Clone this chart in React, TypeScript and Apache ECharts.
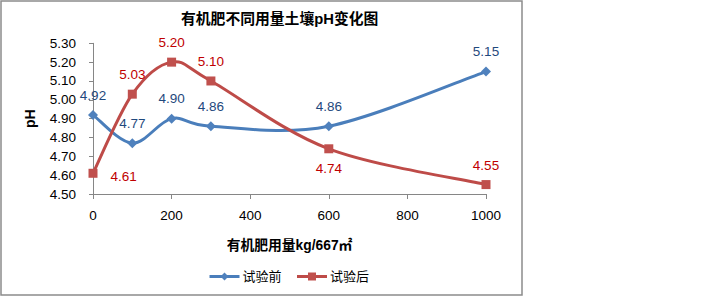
import React, { useEffect, useRef } from "react";
import * as echarts from "echarts";

const titleText = "有机肥不同用量土壤pH变化图";
const xAxisName = "有机肥用量kg/667㎡";
const yAxisName = "pH";
const seriesNames = ["试验前", "试验后"];
const doses = [0, 100, 200, 300, 600, 1000];
const phBefore = [4.92, 4.77, 4.9, 4.86, 4.86, 5.15];
const phAfter = [4.61, 5.03, 5.2, 5.1, 4.74, 4.55];

const FONT = "'Liberation Sans', Arial, 'Noto Sans CJK SC', sans-serif";
const BLUE = "#4A7EBB";
const RED = "#BE4B48";

function smoothSeries(name: string, vals: number[], color: string) {
  const segs = doses.slice(0, -1).map((d, i) => [d, vals[i], doses[i + 1], vals[i + 1]]);
  return {
    name: name + "-curve",
    type: "custom",
    coordinateSystem: "cartesian2d",
    silent: true,
    encode: { x: [0, 2], y: [1, 3] },
    data: segs,
    z: 1,
    renderItem: (params: any, api: any) => {
      const i = params.dataIndex;
      const n = doses.length;
      const pt = (j: number) => {
        const k = Math.max(0, Math.min(n - 1, j));
        return api.coord([doses[k], vals[k]]);
      };
      const p0 = pt(i - 1);
      const p1 = pt(i);
      const p2 = pt(i + 1);
      const p3 = pt(i + 2);
      const t = 1 / 6;
      return {
        type: "bezierCurve",
        shape: {
          x1: p1[0],
          y1: p1[1],
          cpx1: p1[0] + (p2[0] - p0[0]) * t,
          cpy1: p1[1] + (p2[1] - p0[1]) * t,
          cpx2: p2[0] - (p3[0] - p1[0]) * t,
          cpy2: p2[1] - (p3[1] - p1[1]) * t,
          x2: p2[0],
          y2: p2[1],
        },
        style: { stroke: color, lineWidth: 3, fill: "none", lineCap: "round" },
      };
    },
  };
}

export default function App() {
  const ref = useRef<HTMLDivElement>(null);
  useEffect(() => {
    if (!ref.current) return;
    const chart = echarts.init(ref.current, null, { renderer: "svg" });
    const lbl = (color: string) => ({
      show: true,
      position: "top",
      distance: 8,
      color,
      fontSize: 13.5,
      fontFamily: FONT,
      formatter: (p: any) => Number(p.value[1]).toFixed(2),
    });
    const beforeData = doses.map((d, i) => [d, phBefore[i]]);
    const afterData = doses.map((d, i) => {
      const item: any = { value: [d, phAfter[i]] };
      if (i === 0) item.label = { position: "right", distance: 13, offset: [0, 3] };
      if (i === 4) item.label = { position: "bottom", distance: 8 };
      return item;
    });
    chart.setOption({
      animation: false,
      backgroundColor: "#ffffff",
      textStyle: { fontFamily: FONT },
      title: {
        text: titleText,
        left: 176,
        top: 7,
        textStyle: { fontSize: 14.8, fontWeight: "bold", color: "#000", fontFamily: FONT },
      },
      graphic: [
        {
          type: "rect",
          shape: { x: 1, y: 1, width: 521, height: 294 },
          style: { fill: "none", stroke: "#8c8c8c", lineWidth: 1.5 },
          silent: true,
        },
      ],
      legend: {
        left: 208,
        top: 270,
        padding: 0,
        itemWidth: 30,
        itemHeight: 10,
        itemGap: 14,
        textStyle: { fontSize: 13, color: "#000", fontFamily: FONT, padding: [0, 0, 0, -2] },
        data: [
          { name: seriesNames[0], lineStyle: { color: BLUE, width: 3, opacity: 1 } },
          { name: seriesNames[1], lineStyle: { color: RED, width: 3, opacity: 1 } },
        ],
      },
      grid: { left: 93, top: 43.3, width: 393, height: 150.7, containLabel: false },
      xAxis: {
        type: "value",
        min: 0,
        max: 1000,
        interval: 200,
        name: xAxisName,
        nameLocation: "middle",
        nameGap: 45,
        nameTextStyle: { fontSize: 13.8, fontWeight: "bold", color: "#000", fontFamily: FONT },
        axisLine: { show: true, lineStyle: { color: "#868686", width: 1 } },
        axisTick: { show: true, length: 5, lineStyle: { color: "#868686" } },
        axisLabel: {
          fontSize: 13.5,
          color: "#000",
          margin: 15,
          fontFamily: FONT,
          formatter: (v: number) => String(v),
        },
        splitLine: { show: false },
      },
      yAxis: {
        type: "value",
        min: 4.5,
        max: 5.3,
        interval: 0.1,
        name: yAxisName,
        nameLocation: "middle",
        nameRotate: 90,
        nameGap: 56,
        nameTextStyle: { fontSize: 14, fontWeight: "bold", color: "#000", fontFamily: FONT },
        axisLine: { show: true, lineStyle: { color: "#868686", width: 1 } },
        axisTick: { show: true, inside: false, length: 4, lineStyle: { color: "#868686" } },
        axisLabel: {
          fontSize: 13.5,
          color: "#000",
          margin: 17,
          fontFamily: FONT,
          formatter: (v: number) => v.toFixed(2),
        },
        splitLine: { show: false },
      },
      series: [
        smoothSeries(seriesNames[0], phBefore, BLUE),
        smoothSeries(seriesNames[1], phAfter, RED),
        {
          name: seriesNames[0],
          type: "line",
          data: beforeData,
          symbol: "diamond",
          symbolSize: 10,
          z: 3,
          lineStyle: { color: BLUE, width: 0, opacity: 0 },
          itemStyle: { color: "#4F81BD" },
          label: lbl("#1F497D"),
        },
        {
          name: seriesNames[1],
          type: "line",
          data: afterData,
          symbol: "rect",
          symbolSize: 9,
          z: 3,
          lineStyle: { color: RED, width: 0, opacity: 0 },
          itemStyle: { color: "#C0504D" },
          label: lbl("#C00000"),
        },
      ],
    });
    return () => chart.dispose();
  }, []);
  return (
    <div
      ref={ref}
      style={{ position: "fixed", left: 0, top: 0, width: 720, height: 296, background: "#fff" }}
    />
  );
}
